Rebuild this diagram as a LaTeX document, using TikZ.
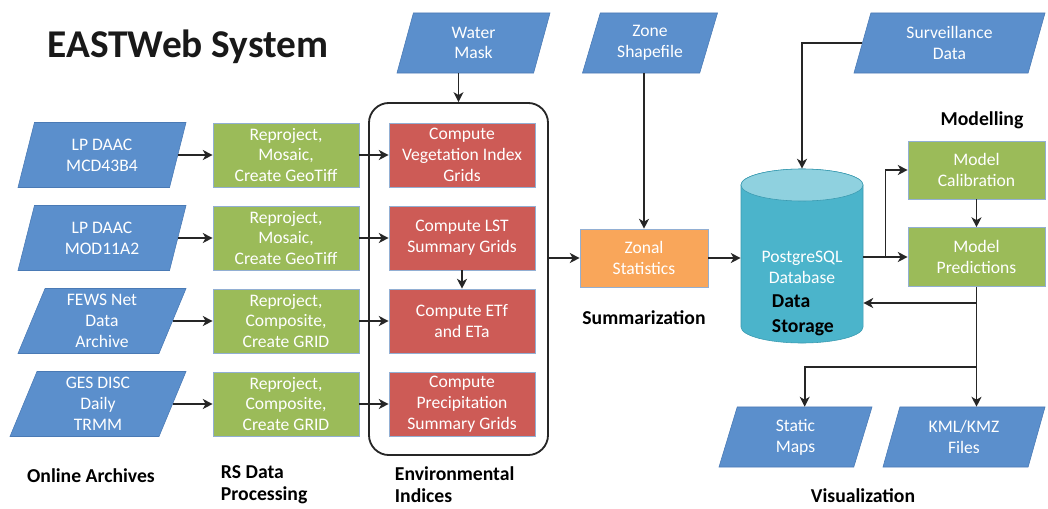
\documentclass[tikz,border=0pt]{standalone}
\usepackage{fontspec}
\setmainfont{Carlito}
\usetikzlibrary{shapes.geometric,arrows.meta,calc}

\definecolor{archblue}{HTML}{5B8FCC}
\definecolor{archline}{HTML}{4A7AB5}
\definecolor{procgreen}{HTML}{9BBB59}
\definecolor{idxred}{HTML}{CD5B56}
\definecolor{zonalorange}{HTML}{F9A65A}
\definecolor{dbaqua}{HTML}{4BB4CB}
\definecolor{dbtop}{HTML}{8FD1DF}
\definecolor{dbline}{HTML}{3A9AB0}

\tikzset{
  datain/.style={trapezium, trapezium left angle=63, trapezium right angle=117,
    trapezium stretches body, draw=archline, fill=archblue, text=white,
    minimum height=1.625cm, inner sep=0pt, align=center,
    font=\fontsize{12.5}{14.8}\selectfont},
  procbox/.style={rectangle, draw=archline!60, fill=procgreen, text=white,
    minimum width=3.65cm, minimum height=1.6cm, inner sep=0pt, align=center,
    font=\fontsize{12.5}{14.8}\selectfont},
  idxbox/.style={procbox, fill=idxred},
  steplabel/.style={font=\fontsize{14}{15.6}\selectfont\bfseries, align=left},
  flow/.style={draw=black!85, line width=1.3pt, -{Stealth[length=7pt,width=7pt,inset=2pt]}},
}

\begin{document}
\begin{tikzpicture}[x=0.025cm,y=-0.025cm]
  \useasboundingbox (0,0) rectangle (1048,508);

    % --------------------------------------------------------- %
    % ------------- title
    % --------------------------------------------------------- %
    \node[font=\fontsize{28}{32}\selectfont\bfseries, text=black!90] (title) at (188,47) {EASTWeb System};

    % --------------------------------------------------------- %
    % ------------- online archives and RS data processing
    % --------------------------------------------------------- %
    \node[datain, minimum width=4.2cm] (mcd) at (102,155) {LP DAAC\\MCD43B4};
    \node[datain, minimum width=4.2cm] (mod) at (102,238) {LP DAAC\\MOD11A2};
    \node[datain, minimum width=4.2cm] (fews) at (102,321) {FEWS Net\\Data\\Archive};
    \node[datain, minimum width=4.4cm] (ges) at (98,404) {GES DISC\\Daily\\TRMM};

    \node[procbox] (rs1) at (286,155) {Reproject,\\Mosaic,\\Create GeoTiff};
    \node[procbox] (rs2) at (286,238) {Reproject,\\Mosaic,\\Create GeoTiff};
    \node[procbox] (rs3) at (286,321) {Reproject,\\Composite,\\Create GRID};
    \node[procbox] (rs4) at (286,404) {Reproject,\\Composite,\\Create GRID};

    \foreach \a/\b in {mcd/rs1, mod/rs2, fews/rs3, ges/rs4}
      \draw[flow] (\a.right side) -- (\b.west);

    % --------------------------------------------------------- %
    % ------------- environmental indices
    % --------------------------------------------------------- %
    \node[draw=black!85, line width=1.3pt, rounded corners=0.5cm,
      minimum width=4.475cm, minimum height=8.8cm] (envbox) at (458.5,279) {};
    \node[idxbox] (veg) at (462,155) {Compute\\Vegetation Index\\Grids};
    \node[idxbox] (lst) at (462,238) {Compute LST\\Summary Grids};
    \node[idxbox] (etf) at (462,321) {Compute ETf\\and ETa};
    \node[idxbox] (prcp) at (462,404) {Compute\\Precipitation\\Summary Grids};
    \node[datain, minimum width=3.825cm, minimum height=1.5cm] (water) at (473.5,43) {Water\\Mask};

    \foreach \a/\b in {rs1/veg, rs2/lst, rs3/etf, rs4/prcp}
      \draw[flow] (\a.east) -- (\b.west);
    \draw[flow] (envbox.north |- water.bottom side) -- (envbox.north);
    \draw[flow] (lst.south) -- (etf.north);

    % --------------------------------------------------------- %
    % ------------- summarization
    % --------------------------------------------------------- %
    \node[datain, minimum width=3.375cm, minimum height=1.5cm] (zone) at (650,43) {Zone\\Shapefile};
    \node[procbox, fill=zonalorange, minimum width=3.2cm, minimum height=1.45cm] (zonal) at (644,258) {Zonal\\Statistics};

    \draw[flow] (envbox.east |- zonal.west) -- (zonal.west);
    \draw[flow] (zonal.north |- zone.bottom side) -- (zonal.north);

    % --------------------------------------------------------- %
    % ------------- data storage
    % --------------------------------------------------------- %
    \node[minimum width=3.05cm, minimum height=4.35cm] (db) at (802,256) {};
    \filldraw[fill=dbaqua, draw=dbline] (741,185) -- (741,327)
      arc[start angle=180, end angle=360, x radius=1.525cm, y radius=0.4cm] -- (863,185)
      arc[start angle=0, end angle=180, x radius=1.525cm, y radius=0.4cm] -- cycle;
    \filldraw[fill=dbtop, draw=dbline] (802,185) ellipse [x radius=1.525cm, y radius=0.4cm];
    \node[text=white, align=center, font=\fontsize{12.5}{14.8}\selectfont] (dbname) at (802,267.5) {PostgreSQL\\Database};
    \node[steplabel, anchor=west, font=\fontsize{14}{17.5}\selectfont\bfseries] (dbstore) at (767,315.5) {Data\\Storage};

    \draw[flow] (zonal.east) -- (zonal.east -| db.west);

    \node[datain, minimum width=4.775cm, minimum height=1.5cm] (surv) at (949.5,43) {Surveillance\\Data};
    \draw[flow] (surv.left side) -| (db.north);

    % --------------------------------------------------------- %
    % ------------- modelling
    % --------------------------------------------------------- %
    \node[steplabel] (modlabel) at (982,120) {Modelling};
    \node[procbox, minimum width=3.425cm, minimum height=1.45cm] (calib) at (976.5,170) {Model\\Calibration};
    \node[procbox, minimum width=3.425cm, minimum height=1.475cm] (pred) at (976.5,257) {Model\\Predictions};

    \coordinate (dbout) at (db.east |- pred.west);
    \coordinate (calbranch) at ($(dbout)!0.5!(pred.west)$);
    \draw[flow] (dbout) -- (pred.west);
    \draw[flow] (calbranch) |- (calib.west);
    \draw[flow] (calib.south) -- (pred.north);

    % --------------------------------------------------------- %
    % ------------- visualization
    % --------------------------------------------------------- %
    \node[datain, minimum width=3.825cm, minimum height=1.5cm] (static) at (795.5,437) {Static\\Maps};
    \node[datain, minimum width=4.05cm, minimum height=1.5cm] (kml) at (964,437) {KML/KMZ\\Files};

    \coordinate (feedback) at (pred.south |- 0,303);
    \coordinate (visbranch) at (pred.south |- 0,367);
    \draw[flow] (feedback) -- (feedback -| db.east);
    \draw[flow] (pred.south) -- (pred.south |- kml.top side);
    \draw[flow] (visbranch) -| (static.top side);

    % --------------------------------------------------------- %
    % ------------- stage labels
    % --------------------------------------------------------- %
    \node[steplabel] (lblarch) at (91,476) {Online Archives};
    \node[steplabel, anchor=west] (lblrs) at (216,485) {RS Data\\Processing};
    \node[steplabel, anchor=west] (lblenv) at (390,485) {Environmental\\Indices};
    \node[steplabel] (lblsum) at (644,318) {Summarization};
    \node[steplabel] (lblvis) at (863,496) {Visualization};

\end{tikzpicture}
\end{document}
